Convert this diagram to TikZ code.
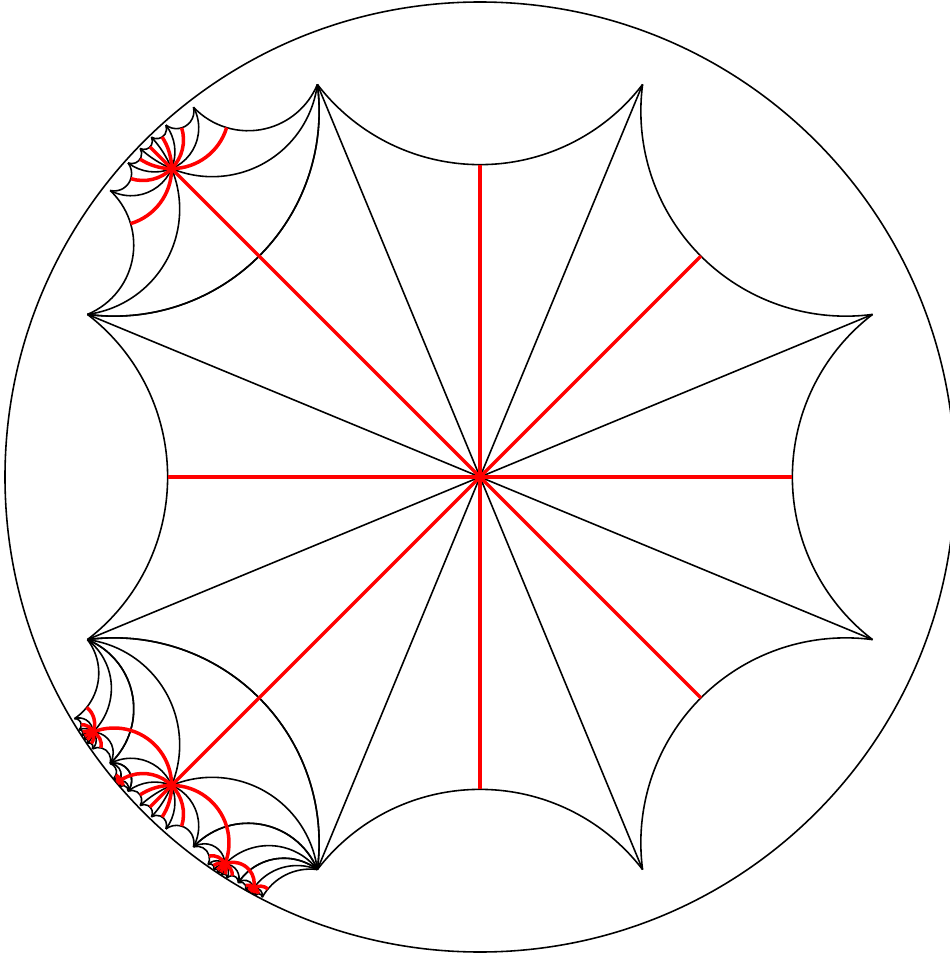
\documentclass[tikz,border=0pt]{standalone}
\usepackage{xfp}
\tikzset{
  edgeline/.style={black, line width=0.45pt},
  redsp/.style={red, line width=1pt},
  disk/.style={black, line width=0.45pt},
}
% {8,12} regular octagon in the Poincare disk
\edef\Ch{\fpeval{(1+sqrt(2))*(2+sqrt(3))}}
\edef\rv{\fpeval{sqrt((\Ch-1)/(\Ch+1))}}
\edef\dd{\fpeval{(1+\rv*\rv)/(2*\rv*cosd(22.5))}}
\edef\RR{\fpeval{\dd*\dd-1}}
\edef\sm{\fpeval{\dd-sqrt(\RR)}}
\def\SC{4.75}
% inversion in the circle of edge #1 of the base octagon, acting on \px,\py
\newcommand\invj[1]{%
  \xdef\HTcx{\fpeval{\dd*cosd(45*(#1))}}%
  \xdef\HTcy{\fpeval{\dd*sind(45*(#1))}}%
  \xdef\HTdx{\fpeval{(\px)-(\HTcx)}}%
  \xdef\HTdy{\fpeval{(\py)-(\HTcy)}}%
  \xdef\HTf{\fpeval{(\RR)/((\HTdx)*(\HTdx)+(\HTdy)*(\HTdy))}}%
  \xdef\px{\fpeval{(\HTcx)+(\HTf)*(\HTdx)}}%
  \xdef\py{\fpeval{(\HTcy)+(\HTf)*(\HTdy)}}%
}
\newcommand\mapit[3]{%
  \xdef\px{#2}\xdef\py{#3}%
  \if\relax\detokenize{#1}\relax\else
    \foreach \jj in {#1}{\invj{\jj}}%
  \fi}
\newcommand\octpts[1]{%
  \mapit{#1}{0}{0}\xdef\Cx{\px}\xdef\Cy{\py}%
  \foreach \k in {0,...,7}{%
    \mapit{#1}{\fpeval{\rv*cosd(22.5+45*\k)}}{\fpeval{\rv*sind(22.5+45*\k)}}%
    \expandafter\xdef\csname Vx\k\endcsname{\px}%
    \expandafter\xdef\csname Vy\k\endcsname{\py}%
    \mapit{#1}{\fpeval{\sm*cosd(45*\k)}}{\fpeval{\sm*sind(45*\k)}}%
    \expandafter\xdef\csname Mx\k\endcsname{\px}%
    \expandafter\xdef\csname My\k\endcsname{\py}%
  }}
% hyperbolic geodesic between (#1,#2) and (#3,#4), style #5
\newcommand\geo[5]{%
  \edef\HGxa{\fpeval{#1}}\edef\HGya{\fpeval{#2}}%
  \edef\HGxb{\fpeval{#3}}\edef\HGyb{\fpeval{#4}}%
  \edef\HGdet{\fpeval{(\HGxa)*(\HGyb)-(\HGya)*(\HGxb)}}%
  \edef\HGpx{\fpeval{round(\SC*(\HGxa),5)}}%
  \edef\HGpy{\fpeval{round(\SC*(\HGya),5)}}%
  \edef\HGqx{\fpeval{round(\SC*(\HGxb),5)}}%
  \edef\HGqy{\fpeval{round(\SC*(\HGyb),5)}}%
  \ifnum\fpeval{abs(\HGdet)<0.000000001}=1
    \draw[#5] (\HGpx,\HGpy) -- (\HGqx,\HGqy);%
  \else
    \edef\HGa{\fpeval{(1+(\HGxa)^2+(\HGya)^2)/2}}%
    \edef\HGb{\fpeval{(1+(\HGxb)^2+(\HGyb)^2)/2}}%
    \edef\HGcx{\fpeval{((\HGa)*(\HGyb)-(\HGb)*(\HGya))/(\HGdet)}}%
    \edef\HGcy{\fpeval{((\HGxa)*(\HGb)-(\HGxb)*(\HGa))/(\HGdet)}}%
    \edef\HGrho{\fpeval{sqrt((\HGcx)^2+(\HGcy)^2-1)}}%
    \ifnum\fpeval{\HGrho>60}=1
      \draw[#5] (\HGpx,\HGpy) -- (\HGqx,\HGqy);%
    \else
      \edef\HGal{\fpeval{atand((\HGya)-(\HGcy),(\HGxa)-(\HGcx))}}%
      \edef\HGbe{\fpeval{atand((\HGyb)-(\HGcy),(\HGxb)-(\HGcx))}}%
      \edef\HGbe{\fpeval{((\HGbe)-(\HGal)>180) ? (\HGbe)-360 : (((\HGbe)-(\HGal)<-180) ? (\HGbe)+360 : (\HGbe))}}%
      \edef\HGr{\fpeval{round(\SC*(\HGrho),5)}}%
      \draw[#5] (\HGpx,\HGpy) arc[start angle=\HGal, end angle=\HGbe, radius=\HGr cm];%
    \fi
  \fi}
\newcommand\octblack[1]{%
  \octpts{#1}%
  \foreach \k in {0,...,7}{%
    \pgfmathtruncatemacro\kn{mod(\k+1,8)}%
    \geo{\csname Vx\k\endcsname}{\csname Vy\k\endcsname}{\csname Vx\kn\endcsname}{\csname Vy\kn\endcsname}{edgeline}%
    \geo{\Cx}{\Cy}{\csname Vx\k\endcsname}{\csname Vy\k\endcsname}{edgeline}%
  }}
\newcommand\octred[1]{%
  \octpts{#1}%
  \foreach \k in {0,...,7}{%
    \geo{\Cx}{\Cy}{\csname Mx\k\endcsname}{\csname My\k\endcsname}{redsp}%
  }}
\begin{document}
\begin{tikzpicture}
\useasboundingbox (-4.80,-4.81) rectangle (4.70,4.77);
\draw[disk] (0,0) circle (4.75);
\octblack{}
\octblack{3}
\octblack{5}
\octblack{4,5}
\octblack{6,5}
\octblack{3,5}
\octblack{5,6,5}
\octred{}
\octred{3}
\octred{5}
\octred{4,5}
\octred{6,5}
\octred{3,5}
\octred{5,6,5}
\end{tikzpicture}
\end{document}
